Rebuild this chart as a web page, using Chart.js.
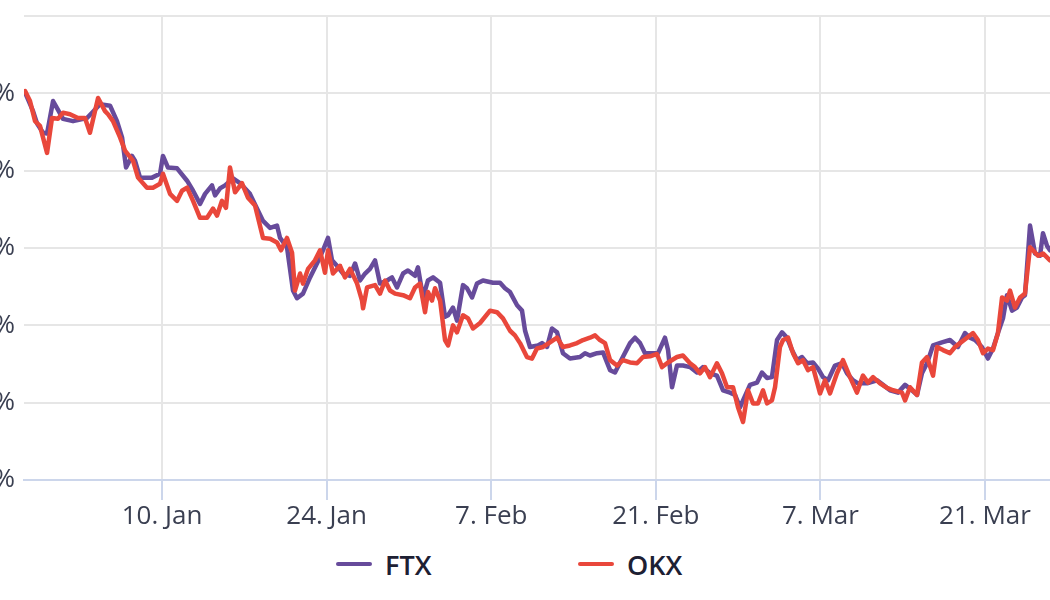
<!DOCTYPE html>
<html>
<head>
<meta charset="utf-8">
<title>FTX vs OKX</title>
<script src="https://cdn.jsdelivr.net/npm/chart.js@4/dist/chart.umd.min.js"></script>
<style>
  html, body { margin: 0; padding: 0; background: #fff; width: 1050px; height: 600px; overflow: hidden; }
  #wrap { position: absolute; left: -76px; top: 0; width: 1146px; height: 540px; }
  #legend { position: absolute; left: 336px; top: 544px; height: 40px; display: flex; font-family: 'Open Sans', sans-serif; font-weight: 600; font-size: 27px; color: #1d2033; }
  #legend .item { width: 242px; display: flex; align-items: center; }
  #legend .line { width: 36px; height: 4px; border-radius: 2px; margin-right: 13px; }
</style>
</head>
<body>
<div id="wrap"><canvas id="chart"></canvas></div>
<div id="legend"></div>
<script>
// x = days since 1 Jan 2022, y = change in %
const ftxDays = [-2.65,-1.97,-1.63,-1.12,-0.78,-0.27,0.07,0.58,1.43,2.62,
  3.05,3.73,4.58,5.17,5.60,5.94,6.45,6.70,7.13,8.15,
  8.83,9.08,9.51,10.28,11.13,11.64,12.23,12.66,13.25,13.51,
  13.93,14.36,15.04,15.63,16.48,17.59,18.19,18.78,19.04,19.63,
  20.14,20.48,20.99,21.59,22.18,22.69,23.12,23.46,23.88,24.40,
  24.99,25.42,25.84,26.27,26.69,27.12,27.54,28.14,28.56,28.99,
  29.50,29.92,30.52,30.77,31.20,31.62,32.05,32.65,33.07,33.33,
  33.75,34.09,34.60,34.94,35.37,35.79,36.30,37.15,37.75,38.17,
  38.60,39.20,39.62,39.88,40.30,40.98,41.32,41.75,42.17,42.60,
  43.10,43.70,44.55,44.98,45.40,46.00,46.51,47.11,47.53,48.13,
  48.81,49.23,49.66,50.08,50.76,51.19,51.78,52.04,52.38,52.80,
  53.31,53.91,54.50,55.01,55.61,56.20,56.72,57.31,57.74,58.16,
  58.42,59.01,59.61,60.03,60.46,60.88,61.31,61.74,62.16,62.58,
  63.01,63.44,63.86,64.37,64.80,65.22,65.65,66.24,66.84,67.26,
  67.77,68.20,68.97,69.82,70.33,70.92,71.60,72.20,72.79,73.22,
  73.64,74.07,74.58,75.34,76.02,76.70,77.30,77.72,78.15,78.74,
  79.25,79.68,80.10,80.53,80.87,81.30,81.72,82.15,82.40,82.83,
  83.25,83.68,83.93,84.27,84.53,85.04];
const ftxValues = [0.1,-2.3,-3.9,-5.1,-5.2,-1.0,-1.9,-3.3,-3.6,-3.2,
  -2.5,-1.4,-1.6,-3.6,-5.7,-9.6,-8.1,-8.7,-10.9,-10.9,
  -10.4,-8.1,-9.6,-9.7,-11.3,-12.6,-14.3,-13.0,-11.9,-13.2,
  -12.3,-11.9,-11.0,-11.6,-13.0,-16.5,-17.4,-17.1,-18.7,-19.9,
  -25.5,-26.5,-25.9,-23.8,-22.0,-20.3,-18.7,-21.6,-22.3,-23.3,
  -23.6,-22.0,-24.2,-23.3,-22.7,-21.6,-24.6,-24.2,-23.8,-25.1,
  -23.3,-22.9,-23.6,-22.5,-26.4,-24.2,-23.8,-24.5,-28.9,-28.7,
  -27.7,-29.4,-24.8,-25.2,-26.4,-24.6,-24.2,-24.5,-24.5,-25.2,
  -25.7,-27.4,-28.1,-30.7,-32.8,-32.6,-32.3,-32.8,-30.4,-30.9,
  -33.6,-34.3,-34.1,-33.6,-33.9,-33.6,-33.5,-35.8,-36.1,-34.3,
  -32.3,-31.6,-32.3,-33.6,-33.6,-33.6,-31.6,-33.2,-38.0,-35.2,
  -35.2,-35.4,-36.1,-35.4,-36.2,-36.5,-38.4,-38.7,-39.0,-40.6,
  -39.7,-37.7,-37.4,-36.1,-36.8,-36.7,-31.9,-30.9,-31.6,-33.2,
  -34.5,-34.1,-34.9,-34.8,-35.6,-36.7,-37.1,-35.2,-34.9,-36.2,
  -37.1,-37.5,-37.5,-37.1,-37.7,-38.4,-38.7,-37.7,-38.4,-39.0,
  -36.2,-34.9,-32.6,-32.2,-31.9,-32.8,-31.0,-31.6,-31.9,-32.8,
  -34.3,-33.0,-31.0,-29.1,-26.1,-28.1,-27.7,-26.4,-26.1,-17.1,
  -20.7,-21.0,-18.1,-19.7,-20.3,-20.6];

const okxDays = [-2.65,-2.23,-1.80,-1.38,-0.78,-0.36,0.15,0.58,1.17,1.85,
  2.45,2.87,3.56,4.15,4.41,4.83,5.43,5.85,6.53,6.96,
  7.72,8.23,8.83,9.08,9.68,10.28,10.70,11.13,11.64,12.23,
  12.83,13.34,13.68,14.10,14.44,14.78,15.21,15.80,16.31,16.91,
  17.59,18.19,18.78,19.12,19.63,20.06,20.31,20.74,20.99,21.42,
  22.01,22.44,22.86,23.12,23.54,24.14,24.56,24.99,25.59,26.01,
  26.10,26.44,27.12,27.54,27.97,28.39,28.82,29.50,30.09,30.52,
  30.94,31.37,31.62,31.96,32.22,32.65,33.07,33.33,33.75,34.09,
  34.60,35.03,35.45,36.05,36.90,37.49,38.00,38.60,39.02,39.45,
  40.04,40.47,40.89,41.41,42.00,42.60,43.10,43.70,44.30,44.81,
  45.40,45.83,46.25,46.68,47.11,47.70,48.21,48.81,49.40,49.91,
  50.51,51.10,51.53,52.04,52.80,53.31,53.91,54.33,54.76,55.18,
  55.61,56.20,56.63,57.06,57.57,57.99,58.42,58.84,59.27,59.69,
  60.12,60.46,60.88,61.14,61.56,61.82,62.25,62.67,63.10,63.52,
  63.95,64.37,64.97,65.39,65.82,66.41,66.92,67.52,68.11,68.62,
  69.05,69.48,70.07,70.67,71.18,71.94,72.20,72.62,73.22,73.64,
  74.07,74.58,74.92,75.43,76.02,76.45,76.87,77.47,77.98,78.40,
  78.83,79.25,79.68,80.10,80.45,80.87,81.13,81.55,81.98,82.40,
  82.83,83.08,83.51,83.93,84.53,85.04];
const okxValues = [0.3,-1.0,-3.6,-4.2,-7.7,-3.2,-3.3,-2.5,-2.7,-3.2,
  -3.2,-5.1,-0.6,-2.3,-2.7,-3.6,-5.7,-7.4,-8.7,-10.9,
  -12.2,-12.2,-11.7,-10.4,-13.0,-13.9,-12.6,-12.2,-13.9,-16.1,
  -16.1,-14.9,-15.8,-13.9,-14.8,-9.6,-12.8,-11.6,-13.5,-14.5,
  -18.7,-18.8,-19.3,-20.3,-18.7,-20.6,-25.5,-23.3,-24.6,-22.7,
  -21.6,-20.3,-23.2,-20.3,-23.3,-22.3,-23.8,-22.7,-24.6,-26.8,
  -27.8,-25.1,-24.8,-25.9,-24.2,-25.5,-25.9,-26.1,-26.5,-25.1,
  -24.6,-28.3,-25.7,-26.8,-25.2,-26.8,-31.9,-32.6,-30.0,-30.9,
  -28.7,-29.1,-30.4,-29.7,-28.1,-28.3,-29.1,-30.7,-31.3,-32.3,
  -34.1,-34.3,-33.0,-32.8,-32.2,-31.6,-32.8,-32.6,-32.3,-31.9,
  -31.6,-31.3,-31.9,-32.3,-34.5,-35.2,-34.5,-34.8,-34.9,-34.1,
  -34.0,-33.7,-35.4,-34.8,-34.1,-33.9,-34.9,-35.4,-36.2,-35.4,
  -36.7,-34.9,-36.2,-38.0,-38.0,-40.6,-42.5,-38.4,-40.1,-40.1,
  -38.4,-40.1,-39.7,-38.0,-32.8,-31.9,-31.6,-33.6,-34.9,-34.5,
  -35.8,-35.4,-38.8,-37.1,-38.8,-36.2,-34.5,-36.7,-38.7,-36.5,
  -37.4,-36.7,-37.5,-38.1,-38.4,-38.7,-39.7,-38.0,-39.0,-34.8,
  -34.1,-36.5,-32.8,-33.2,-33.6,-32.8,-32.3,-31.6,-31.0,-31.9,
  -33.6,-33.0,-33.2,-31.0,-26.4,-26.8,-25.5,-27.7,-26.4,-25.9,
  -19.9,-20.3,-21.0,-20.7,-21.6,-21.9];

const tickDays = [9, 23, 37, 51, 65, 79];
const tickLabels = ['10. Jan', '24. Jan', '7. Feb', '21. Feb', '7. Mar', '21. Mar'];
const yTicks = [10, 0, -10, -20, -30, -40, -50];

const toPoints = (days, vals) => days.map((d, i) => ({ x: d, y: vals[i] }));
const tickFont = { family: "'Open Sans', sans-serif", size: 26 };

const chart = new Chart(document.getElementById('chart').getContext('2d'), {
  type: 'line',
  data: {
    datasets: [{
      label: 'FTX',
      data: toPoints(ftxDays, ftxValues),
      borderColor: '#674b9b',
      borderWidth: 4.5,
      borderJoinStyle: 'round',
      borderCapStyle: 'round',
      pointRadius: 0,
      tension: 0,
      order: 2
    }, {
      label: 'OKX',
      data: toPoints(okxDays, okxValues),
      borderColor: '#e9473b',
      borderWidth: 4.5,
      borderJoinStyle: 'round',
      borderCapStyle: 'round',
      pointRadius: 0,
      tension: 0,
      order: 1
    }]
  },
  options: {
    responsive: true,
    maintainAspectRatio: false,
    animation: false,
    layout: { padding: { top: 16, right: 0, bottom: 0, left: 0 } },
    plugins: { legend: { display: false }, tooltip: { enabled: false } },
    scales: {
      x: {
        type: 'linear',
        min: -2.74,
        max: 86.23,
        afterBuildTicks: s => { s.ticks = tickDays.map(v => ({ value: v })); },
        afterFit: s => { s.height = 60; s.paddingLeft = 0; s.paddingRight = 0; },
        ticks: {
          callback: v => tickLabels[tickDays.indexOf(v)],
          font: tickFont,
          color: '#3a3f51',
          padding: 1,
          maxRotation: 0,
          autoSkip: false
        },
        grid: { color: '#e6e6e6', lineWidth: 2, tickLength: 20, tickColor: '#ccd6eb', tickWidth: 2 },
        border: { color: '#ccd6eb', width: 2 }
      },
      y: {
        min: -50,
        max: 10,
        afterBuildTicks: s => { s.ticks = yTicks.map(v => ({ value: v })); },
        afterFit: s => { s.width = 100; s.paddingTop = 0; s.paddingBottom = 0; },
        ticks: {
          callback: v => v === 10 ? '' : v + '%',
          font: tickFont,
          color: '#3a3f51',
          padding: 9
        },
        grid: {
          color: c => (c.tick && c.tick.value === -50) ? 'rgba(0,0,0,0)' : '#e6e6e6',
          lineWidth: 2,
          drawTicks: false
        },
        border: { display: false }
      }
    }
  }
});

// legend in HTML, built from the datasets
const legend = document.getElementById('legend');
chart.data.datasets.forEach(ds => {
  const item = document.createElement('div');
  item.className = 'item';
  const line = document.createElement('span');
  line.className = 'line';
  line.style.background = ds.borderColor;
  const txt = document.createElement('span');
  txt.textContent = ds.label;
  item.appendChild(line);
  item.appendChild(txt);
  legend.appendChild(item);
});
</script>
</body>
</html>
